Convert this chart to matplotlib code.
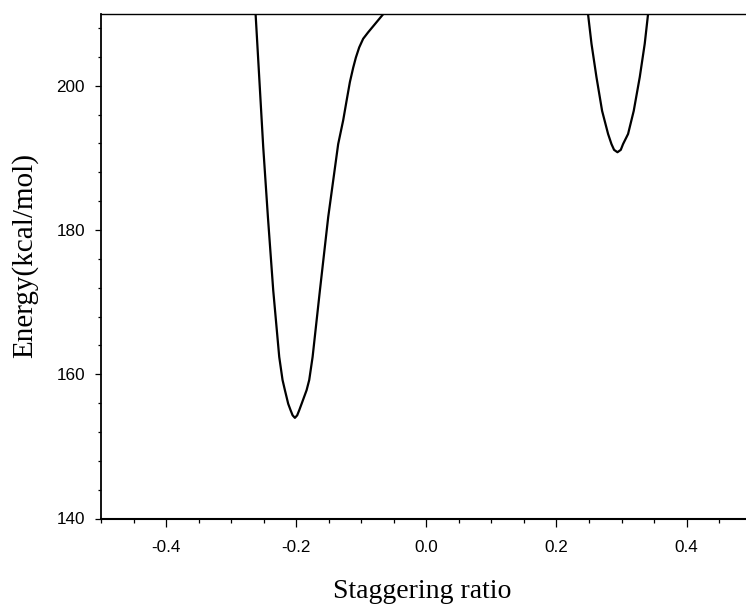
#!/usr/bin/env python3

import matplotlib
matplotlib.use('Agg')
import matplotlib.pyplot as plt
from matplotlib.ticker import MultipleLocator

# left well (staggering ratio, energy in kcal/mol)
x_left = [-0.2635, -0.2624, -0.2507, -0.2435, -0.2353, -0.2261, -0.2210,
          -0.2174, -0.2123, -0.2086, -0.2055, -0.2020, -0.1985, -0.1954,
          -0.1917, -0.1840, -0.1800, -0.1748, -0.1636, -0.1508, -0.1355,
          -0.1278, -0.1226, -0.1175, -0.1124, -0.1083, -0.1032, -0.0971,
          -0.0894, -0.0664, -0.0650]
e_left = [211.0, 209.9, 191.5, 181.8, 171.6, 162.4, 159.2,
          157.8, 155.9, 155.0, 154.3, 153.95, 154.3, 155.0,
          155.9, 157.8, 159.2, 162.4, 171.6, 181.8, 191.9,
          195.2, 197.9, 200.5, 202.5, 203.9, 205.3, 206.5,
          207.4, 209.9, 211.0]

# right well
x_right = [0.2480, 0.2485, 0.2538, 0.2614, 0.2701, 0.2793, 0.2845, 0.2885,
           0.2937, 0.2988, 0.3023, 0.3100, 0.3187, 0.3280, 0.3356, 0.3407,
           0.3412]
e_right = [211.0, 209.9, 205.8, 201.2, 196.5, 193.3, 191.9, 191.1,
           190.77, 191.1, 191.9, 193.3, 196.5, 201.2, 205.8, 209.9,
           211.0]

x_range = (-0.5, 0.5)
y_range = (140, 210)


def plot():
    fig = plt.figure(figsize=(7.46, 6.13), dpi=100)
    # axes runs a little past the right edge, as in the original
    ax = fig.add_axes([101/746, 1 - 518.5/613, 650.7/746, 505/613])

    ax.plot(x_left, e_left, color='black', lw=1.6, solid_joinstyle='round')
    ax.plot(x_right, e_right, color='black', lw=1.6, solid_joinstyle='round')

    ax.set_xlim(*x_range)
    ax.set_ylim(*y_range)

    ax.xaxis.set_major_locator(MultipleLocator(0.2))
    ax.xaxis.set_minor_locator(MultipleLocator(0.05))
    ax.yaxis.set_major_locator(MultipleLocator(20))
    ax.yaxis.set_minor_locator(MultipleLocator(4))
    ax.set_xticks([-0.4, -0.2, 0.0, 0.2, 0.4])
    ax.set_xticklabels(['-0.4', '-0.2', '0.0', '0.2', '0.4'])

    ax.tick_params(axis='x', which='major', direction='out', length=5.5,
                   width=0.9, pad=10, labelsize=12.3)
    ax.tick_params(axis='x', which='minor', direction='out', length=3,
                   width=0.9)
    ax.tick_params(axis='y', which='major', direction='out', length=4,
                   width=0.9, pad=7.5, labelsize=12.3)
    ax.tick_params(axis='y', which='minor', direction='out', length=2.5,
                   width=0.9)
    for lab in ax.get_xticklabels() + ax.get_yticklabels():
        lab.set_fontfamily('Liberation Sans')

    ax.spines['left'].set_linewidth(1.3)
    ax.spines['bottom'].set_linewidth(1.5)
    ax.spines['top'].set_linewidth(1.0)
    ax.spines['right'].set_visible(False)

    fig.text(422.5/746, 1 - 592/613, 'Staggering ratio', ha='center',
             va='center', fontsize=20, family='Liberation Serif')
    fig.text(25/746, 1 - 255.5/613, 'Energy(kcal/mol)', ha='center',
             va='center', rotation=90, fontsize=21, family='Liberation Serif')
    return fig


if __name__ == '__main__':
    fig = plot()
    fig.savefig('out.png', dpi=100)
